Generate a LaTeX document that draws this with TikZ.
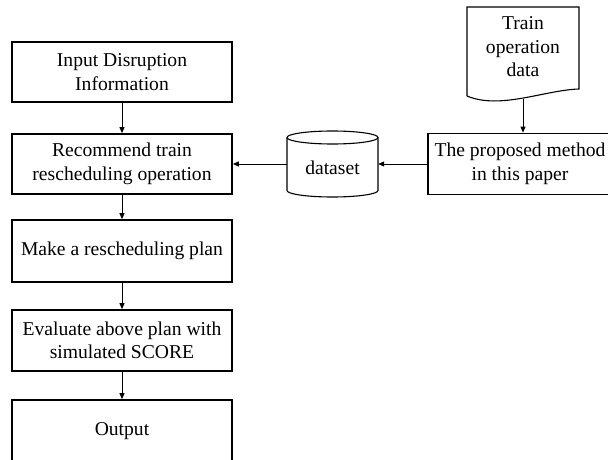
\documentclass[tikz,border=0pt]{standalone}
\usepackage{fontspec}
\setmainfont{Liberation Serif}
\usetikzlibrary{arrows.meta}
\tikzset{
  stagebox/.style={draw, line width=1.7pt, minimum width=220pt, inner sep=0pt,
    align=center, font=\fontsize{19.6}{23.5}\selectfont},
  flowarrow/.style={line width=0.9pt, -{Triangle[length=6pt,width=5pt]}},
  plainlabel/.style={inner sep=0pt, align=center, font=\fontsize{19.6}{23.5}\selectfont},
  thinline/.style={line width=1.1pt}
}
\begin{document}
\begin{tikzpicture}[x=1pt,y=-1pt]
  \useasboundingbox (0,0) rectangle (608,460);
  % left column of steps
  \node[stagebox, minimum height=60pt] (input) at (122,72) {Input Disruption\\Information};
  \node[stagebox, minimum height=60pt] (recommend) at (122,164) {Recommend train\\rescheduling operation};
  \node[stagebox, minimum height=62pt] (make) at (122,251) {Make a rescheduling plan};
  \node[stagebox, minimum height=61pt] (evaluate) at (122,340.5) {Evaluate above plan with\\simulated SCORE};
  \node[stagebox, minimum height=63pt] (output) at (122,431.5) {Output};
  % dataset (cylinder)
  \node[plainlabel, minimum width=91pt, minimum height=53pt, text height=20pt, text depth=0pt] (data) at (332.5,164) {dataset};
  \draw[thinline] (332.5,137.5) ellipse [x radius=45.5pt, y radius=6.5pt];
  \draw[thinline] (287,137.5) -- (287,190.5)
    arc [start angle=180, end angle=360, x radius=45.5pt, y radius=6.5pt] -- (378,137.5);
  % proposed method
  \node[stagebox, minimum width=184pt, minimum height=61pt] (proposed) at (520,164) {The proposed method\\in this paper};
  % train operation data (document)
  \node[plainlabel] (trainData) at (523,47) {Train\\operation\\data};
  \draw[thinline] (467,96) -- (467,7) -- (579,7) -- (579,89)
    .. controls (545,90) and (500,110) .. (467,96);
  \coordinate (docEnd) at (523,98.5);
  % connectors
  \draw[flowarrow] (input) -- (recommend);
  \draw[flowarrow] (recommend) -- (make);
  \draw[flowarrow] (make) -- (evaluate);
  \draw[flowarrow] (evaluate) -- (output);
  \draw[flowarrow] (docEnd) -- (docEnd |- proposed.north);
  \draw[flowarrow] (proposed.west) -- (data.east);
  \draw[flowarrow] (data.west) -- (recommend.east);
\end{tikzpicture}
\end{document}
